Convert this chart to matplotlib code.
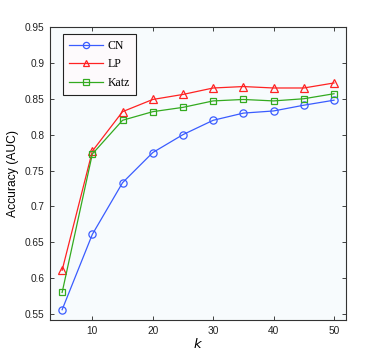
import matplotlib
matplotlib.use('Agg')
import matplotlib.pyplot as plt
from matplotlib.lines import Line2D

k = [5, 10, 15, 20, 25, 30, 35, 40, 45, 50]
cn = [0.556, 0.661, 0.733, 0.775, 0.800, 0.820, 0.830, 0.833, 0.841, 0.848]
lp = [0.611, 0.777, 0.832, 0.849, 0.856, 0.865, 0.867, 0.865, 0.865, 0.872]
katz = [0.580, 0.773, 0.820, 0.832, 0.838, 0.847, 0.849, 0.847, 0.850, 0.857]

plt.rcParams['font.family'] = ['Liberation Sans', 'DejaVu Sans']

fig = plt.figure(figsize=(3.82, 3.60), dpi=100)
ax = fig.add_axes([0.131, 0.111, 0.775, 0.814])
ax.set_facecolor('#f7fbfd')

c_cn, c_lp, c_katz = '#3a5cff', '#ff2222', '#33aa1f'
ax.plot(k, cn, '-o', color=c_cn, lw=0.9, ms=5.2, mfc='none', mew=0.9)
ax.plot(k, lp, '-^', color=c_lp, lw=0.9, ms=5.8, mfc='none', mew=0.9)
ax.plot(k, katz, '-s', color=c_katz, lw=0.9, ms=4.5, mfc='none', mew=0.9)

ax.set_xlim(3, 52)
ax.set_ylim(0.5416, 0.95)
ax.set_xticks([10, 20, 30, 40, 50])
ax.set_yticks([0.55, 0.6, 0.65, 0.7, 0.75, 0.8, 0.85, 0.9, 0.95])
ax.set_yticklabels(['0.55', '0.6', '0.65', '0.7', '0.75', '0.8', '0.85', '0.9', '0.95'])
ax.tick_params(direction='in', top=True, right=True, length=3, width=0.6,
               labelsize=7.3, colors='#222222', pad=4)
for s in ax.spines.values():
    s.set_linewidth(0.8)
    s.set_color('#333333')

ax.set_xlabel('$k$', fontsize=9.5, labelpad=1)
ax.set_ylabel('Accuracy (AUC)', fontsize=8.7, labelpad=4)

handles = [
    Line2D([], [], color=c_cn, marker='o', lw=0.9, ms=4.5, mfc='none', mew=0.9),
    Line2D([], [], color=c_lp, marker='^', lw=0.9, ms=5, mfc='none', mew=0.9),
    Line2D([], [], color=c_katz, marker='s', lw=0.9, ms=4, mfc='none', mew=0.9),
]
leg = ax.legend(handles, ['CN', 'LP', 'Katz'], loc='upper left',
                bbox_to_anchor=(0.044, 0.976), borderaxespad=0, fancybox=False,
                framealpha=1, edgecolor='#222222', facecolor='#fdfafc',
                prop={'family': 'Liberation Serif', 'size': 8.5},
                handlelength=2.9, labelspacing=0.55, borderpad=0.5, handletextpad=0.35)
leg.get_frame().set_linewidth(0.8)

fig.savefig('out.png', dpi=100, facecolor='white')
